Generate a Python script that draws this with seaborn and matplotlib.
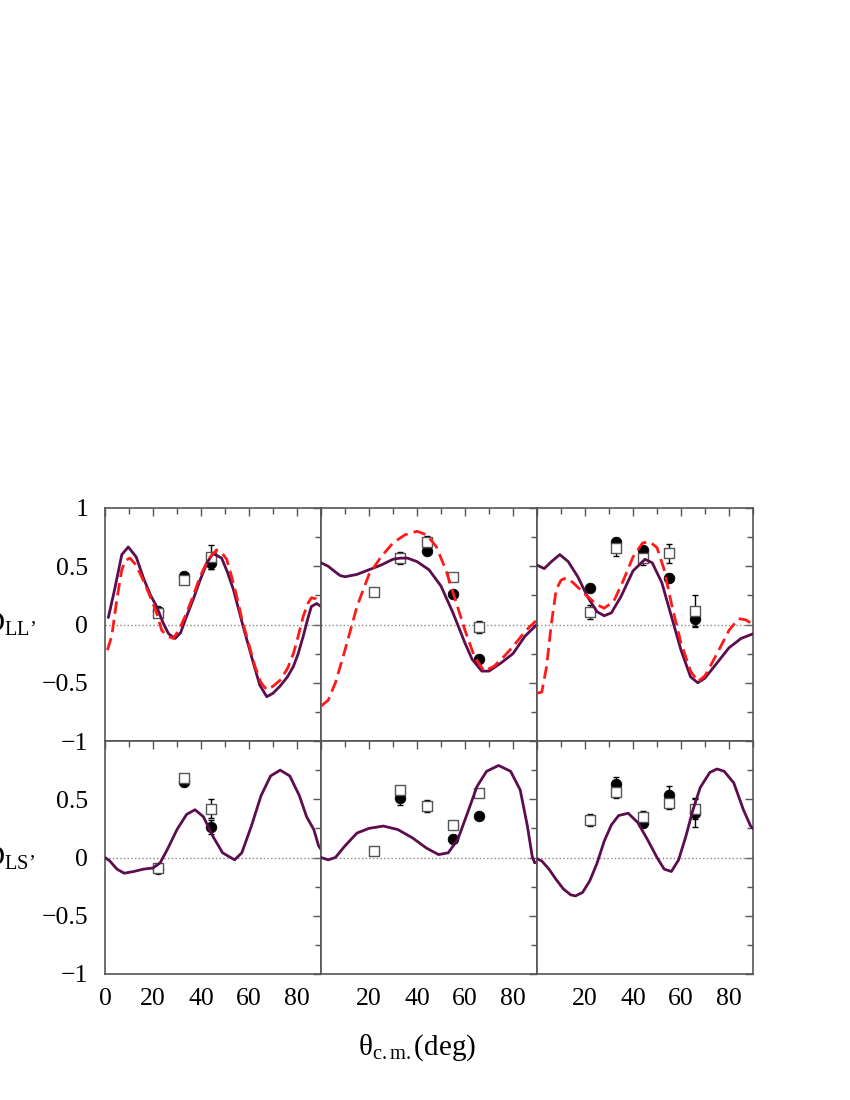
import numpy as np
import matplotlib
matplotlib.use('Agg')
import matplotlib.pyplot as plt
import seaborn as sns

# angles of the measured points (deg)
theta_pts = [22, 33, 44, 55, 66]

# ---- D_LL' (top row) ----
ll_solid_x = [
    [1.4, 4, 7, 9.7, 13, 16, 19, 21.5, 24.3, 26.5, 29.2, 31.5, 34, 37, 39.6, 42.5, 45, 48.6, 51, 53.5,
     57.6, 61.8, 64.5, 67.4, 70, 72.9, 76, 78.5, 80.5, 82.6, 84.5, 86, 88.2, 90],
    [0, 3, 5.4, 8, 10, 12.5, 15, 20, 25, 30, 33, 36, 40, 45, 50, 55, 60, 63, 67, 70, 75, 80, 85, 90],
    [0, 3, 6, 9.5, 13, 17, 21, 25, 28, 31, 35, 40, 45, 48, 52, 56, 60, 64, 67, 70, 75, 80, 85, 90],
]
ll_solid_y = [
    [0.06, 0.30, 0.60, 0.665, 0.58, 0.40, 0.25, 0.155, 0.01, -0.08, -0.12, -0.07, 0.07, 0.23, 0.38, 0.53,
     0.61, 0.57, 0.45, 0.30, -0.02, -0.33, -0.52, -0.62, -0.59, -0.53, -0.45, -0.36, -0.25, -0.10, 0.05,
     0.155, 0.18, 0.155],
    [0.53, 0.50, 0.46, 0.42, 0.41, 0.42, 0.43, 0.47, 0.51, 0.56, 0.57, 0.57, 0.54, 0.47, 0.33, 0.10,
     -0.16, -0.30, -0.40, -0.40, -0.33, -0.25, -0.10, 0.0],
    [0.51, 0.48, 0.54, 0.60, 0.54, 0.41, 0.24, 0.11, 0.075, 0.10, 0.24, 0.46, 0.56, 0.53, 0.36, 0.07,
     -0.22, -0.45, -0.50, -0.46, -0.33, -0.20, -0.12, -0.08],
]
ll_dash_x = [
    [1, 2.8, 4.9, 7, 8.5, 10.4, 12.5, 14.6, 17, 20, 22, 23.6, 26, 28.5, 31, 34, 37, 39.6, 43, 46.5, 48.5,
     50.7, 52.5, 54.9, 57, 59, 62.5, 65, 67.4, 70, 72.9, 76, 78.5, 80.5, 82.6, 84.5, 86, 88, 90],
    [0, 3, 6, 10, 15, 20, 25, 30, 35, 40, 44, 48, 52, 56, 60, 64, 68, 72, 76, 80, 85, 90],
    [0, 2, 4, 6, 8, 10, 12, 15, 20, 25, 28, 32, 36, 40, 44, 47, 50, 53, 56, 60, 64, 67, 70, 75, 80, 84,
     87, 90],
]
ll_dash_y = [
    [-0.22, -0.10, 0.21, 0.47, 0.55, 0.57, 0.52, 0.44, 0.33, 0.18, 0.07, -0.05, -0.10, -0.12, -0.04, 0.10,
     0.26, 0.41, 0.56, 0.64, 0.62, 0.56, 0.43, 0.24, 0.05, -0.10, -0.36, -0.50, -0.56, -0.53, -0.48, -0.38,
     -0.25, -0.10, 0.07, 0.18, 0.23, 0.22, 0.17],
    [-0.70, -0.65, -0.50, -0.22, 0.155, 0.43, 0.58, 0.70, 0.77, 0.80, 0.77, 0.67, 0.47, 0.21, -0.05, -0.28,
     -0.40, -0.36, -0.28, -0.19, -0.06, 0.04],
    [-0.59, -0.58, -0.36, 0.01, 0.30, 0.38, 0.40, 0.36, 0.26, 0.17, 0.14, 0.20, 0.38, 0.58, 0.70, 0.71,
     0.66, 0.47, 0.18, -0.16, -0.40, -0.49, -0.44, -0.25, -0.05, 0.05, 0.04, 0.0],
]
ll_circ = [
    [0.12, 0.42, 0.53, np.nan, np.nan],
    [np.nan, np.nan, 0.63, 0.26, -0.30],
    [0.31, 0.71, 0.64, 0.40, 0.05],
]
ll_circ_err = [
    [0.02, 0.02, 0.05, 0, 0],
    [0, 0, 0.02, 0.02, 0.02],
    [0.02, 0.03, 0.02, 0.03, 0.07],
]
ll_sq = [
    [0.10, 0.38, 0.58, np.nan, np.nan],
    [0.28, 0.57, 0.71, 0.41, -0.02],
    [0.11, 0.66, 0.57, 0.61, 0.12],
]
ll_sq_err = [
    [0.03, 0.03, 0.10, 0, 0],
    [0.02, 0.05, 0.05, 0.03, 0.05],
    [0.06, 0.07, 0.06, 0.08, 0.13],
]

# ---- D_LS' (bottom row) ----
ls_solid_x = [
    [0, 2, 5, 8, 12, 16, 20, 23, 26, 30, 34, 37.5, 41, 45, 49, 54, 57, 61, 65, 69, 73, 77, 81, 84, 87, 89, 90],
    [0, 3, 6, 10, 15, 20, 26, 32, 38, 44, 49, 53, 57, 61, 65, 69, 74, 79, 83, 86, 88, 89, 90],
    [0, 2, 5, 8, 11, 14, 16, 19, 22, 25, 28, 31, 34, 38, 42, 46, 50, 53, 56, 59, 62, 65, 68, 72, 75, 78,
     82, 86, 89, 90],
]
ls_solid_y = [
    [0.0, -0.03, -0.10, -0.135, -0.12, -0.10, -0.09, -0.045, 0.07, 0.24, 0.37, 0.41, 0.35, 0.18, 0.04,
     -0.02, 0.04, 0.27, 0.53, 0.70, 0.75, 0.70, 0.53, 0.35, 0.24, 0.10, 0.07],
    [0.0, -0.02, 0.0, 0.10, 0.21, 0.25, 0.27, 0.24, 0.17, 0.08, 0.025, 0.04, 0.155, 0.38, 0.61, 0.74,
     0.79, 0.74, 0.58, 0.27, 0.01, -0.045, -0.04],
    [-0.01, -0.03, -0.10, -0.19, -0.27, -0.32, -0.33, -0.30, -0.20, -0.05, 0.14, 0.28, 0.36, 0.38, 0.30,
     0.155, 0.0, -0.10, -0.12, -0.02, 0.18, 0.41, 0.60, 0.73, 0.76, 0.74, 0.64, 0.41, 0.27, 0.25],
]
ls_circ = [
    [-0.10, 0.65, 0.26, np.nan, np.nan],
    [np.nan, 0.51, np.nan, 0.16, 0.36],
    [np.nan, 0.63, 0.30, 0.54, 0.38],
]
ls_circ_err = [
    [0.02, 0.03, 0.06, 0, 0],
    [0, 0.06, 0, 0.02, 0.02],
    [0, 0.06, 0.04, 0.07, 0.12],
]
ls_sq = [
    [-0.09, 0.68, 0.42, np.nan, np.nan],
    [0.06, 0.58, 0.44, 0.28, 0.55],
    [0.32, 0.56, 0.35, 0.47, 0.42],
]
ls_sq_err = [
    [0.02, 0.03, 0.08, 0, 0],
    [0.02, 0.02, 0.05, 0.02, 0.02],
    [0.05, 0.05, 0.05, 0.05, 0.09],
]

SOLID = '#5c0d4e'
DASH = '#ff1a1a'
FRAME = '#555555'

sns.set_theme(style='white')
plt.rcParams['font.family'] = ['Liberation Serif', 'DejaVu Serif']
plt.rcParams['mathtext.fontset'] = 'custom'
plt.rcParams['mathtext.rm'] = 'Liberation Serif'
plt.rcParams['mathtext.it'] = 'Liberation Serif:italic'
plt.rcParams['text.color'] = 'black'

fig = plt.figure(figsize=(8.5, 11), dpi=100)
W, H = 850, 1100
left0, pw = 105, 216
top0, ph = 508, 233


def points(ax, vals, errs, kind):
    x = np.array(theta_pts, float)
    y = np.array(vals, float)
    e = np.array(errs, float)
    m = ~np.isnan(y)
    ax.errorbar(x[m], y[m], yerr=e[m], fmt='none', ecolor='black', elinewidth=1, capsize=2.5,
                capthick=1, zorder=3)
    if kind == 'circ':
        sns.scatterplot(x=x[m], y=y[m], ax=ax, marker='o', s=58, color='black', edgecolor='black',
                        zorder=4)
    else:
        sns.scatterplot(x=x[m], y=y[m], ax=ax, marker='s', s=62, color='white', edgecolor=FRAME,
                        linewidth=1, zorder=5)


for row in range(2):
    for col in range(3):
        x0 = (left0 + col * pw) / W
        y0 = 1 - (top0 + (row + 1) * ph) / H
        ax = fig.add_axes([x0, y0, pw / W, ph / H])
        ax.axhline(0, color='#888888', ls=':', lw=1, zorder=1)
        if row == 0:
            sns.lineplot(x=ll_solid_x[col], y=ll_solid_y[col], ax=ax, color=SOLID, lw=2,
                         estimator=None, sort=False, zorder=6)
            sns.lineplot(x=ll_dash_x[col], y=ll_dash_y[col], ax=ax, color=DASH, lw=2,
                         linestyle=(0, (4.5, 2.2)), estimator=None, sort=False, zorder=6)
            points(ax, ll_circ[col], ll_circ_err[col], 'circ')
            points(ax, ll_sq[col], ll_sq_err[col], 'sq')
        else:
            sns.lineplot(x=ls_solid_x[col], y=ls_solid_y[col], ax=ax, color=SOLID, lw=2,
                         estimator=None, sort=False, zorder=6)
            points(ax, ls_circ[col], ls_circ_err[col], 'circ')
            points(ax, ls_sq[col], ls_sq_err[col], 'sq')

        ax.set_xlim(0, 90)
        ax.set_ylim(-1, 1)
        ax.set_xticks([0, 20, 40, 60, 80])
        ax.set_xticks([10, 30, 50, 70, 90], minor=True)
        ax.set_yticks([-1, -0.5, 0, 0.5, 1])
        ax.set_yticks([-0.75, -0.25, 0.25, 0.75], minor=True)
        ax.tick_params(which='both', direction='in', top=True, right=True, color=FRAME,
                       labelsize=18.5, labelcolor='black')
        ax.tick_params(which='major', length=6, width=1)
        ax.tick_params(which='minor', length=4, width=1)
        ax.tick_params(axis='y', pad=12)
        ax.tick_params(axis='x', pad=10)
        for s in ax.spines.values():
            s.set_color(FRAME)
            s.set_linewidth(1.2)

        if col == 0:
            if row == 0:
                ax.set_yticklabels(['\u22121', '\u22120.5', '0', '0.5', '1'])
            else:
                ax.set_yticklabels(['\u22121', '\u22120.5', '0', '0.5', ''])
        else:
            ax.set_yticklabels([])
        if row == 1:
            if col == 0:
                ax.set_xticklabels(['0', '20', '40', '60', '80'])
            else:
                ax.set_xticklabels(['', '20', '40', '60', '80'])
        else:
            ax.set_xticklabels([])
        ax.set_xlabel('')
        ax.set_ylabel('')

# row labels, partly cut off at the left edge as in the original
fig.text(-17 / W, 1 - 624 / H, '$\\mathrm{D_{LL\u2019}}$', fontsize=21, ha='left', va='center')
fig.text(-17 / W, 1 - 858 / H, '$\\mathrm{D_{LS\u2019}}$', fontsize=21, ha='left', va='center')

fig.text(417 / W, 1 - 1048 / H, '$\\mathrm{\u03b8_{c.m.}}$(deg)', fontsize=21, ha='center',
         va='center')

fig.savefig('out.png', dpi=100)
